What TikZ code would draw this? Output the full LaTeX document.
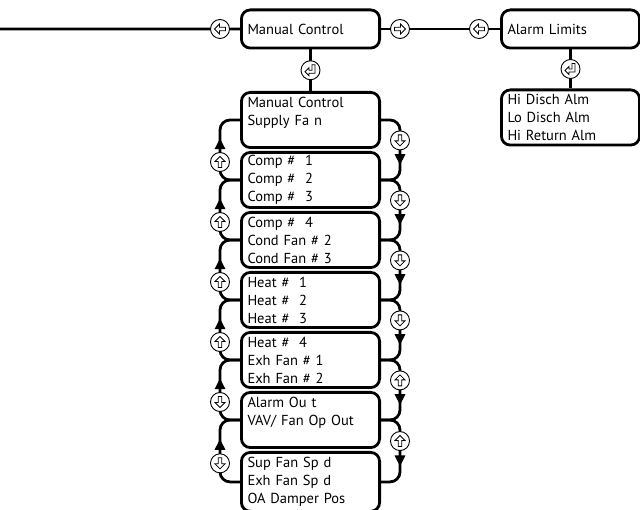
\documentclass[tikz,border=0pt]{standalone}
\usepackage{fontspec}
\setmainfont{PT Sans}
\usetikzlibrary{positioning,calc,arrows.meta,decorations.markings}
\tikzset{menubox/.style={draw, line width=2.8pt, rounded corners=9pt, minimum width=138.2pt, text width=126pt, align=left, inner xsep=6pt, inner ysep=0pt, font=\fontsize{14.5}{18}\selectfont}}
\tikzset{headbox/.style={menubox, minimum height=38.2pt}}
\tikzset{listbox/.style={menubox, minimum height=55.2pt}}
\tikzset{link/.style={draw, line width=2.8pt}}
\tikzset{steplink/.style={link, rounded corners=10pt, postaction={decorate, decoration={markings, mark=at position #1 with {\arrow{Triangle[length=11pt,width=10pt]}}}}}}
\tikzset{pics/navbtn/.style={code={
    \draw[line width=0.9pt, fill=white] (0,0) circle (9.5pt);
    \draw[line width=0.8pt, rotate=#1] (5.5pt,0) -- (0.5pt,5pt) -- (0.5pt,1.7pt) -- (-5.5pt,1.7pt) -- (-5.5pt,-1.7pt) -- (0.5pt,-1.7pt) -- (0.5pt,-5pt) -- cycle;
}}}
\tikzset{pics/enterbtn/.style={code={
    \draw[line width=0.9pt, fill=white] (0,0) circle (9.5pt);
    \draw[line width=0.8pt] (-5.5pt,-1.5pt) -- (-1.5pt,2.5pt) -- (-1.5pt,0pt) -- (1.5pt,0pt) -- (1.5pt,5.5pt) -- (4.5pt,5.5pt) -- (4.5pt,-3pt) -- (-1.5pt,-3pt) -- (-1.5pt,-5.5pt) -- cycle;
}}}

\begin{document}
\begin{tikzpicture}[x=1pt, y=1pt]
    \useasboundingbox (0,0) rectangle (640,-510);
    \clip (0,0) rectangle (640,-510);
    % top row
    \node[headbox, anchor=north west] (manual) at (240,-8.5) {Manual Control};
    \node[headbox, anchor=north west] (alarm) at (500,-8.5) {Alarm Limits};
    \node[listbox, below=39 of alarm] (alarmlist) {Hi Disch Alm\\Lo Disch Alm\\Hi Return Alm};
    % manual control column
    \node[listbox, below=41.5 of manual] (mc1) {Manual Control\\Supply  Fa n\\~};
    \node[listbox, below=2 of mc1] (mc2) {Comp \#\ \ 1\\Comp \#\ \ 2\\Comp \#\ \ 3};
    \node[listbox, below=2 of mc2] (mc3) {Comp \#\ \ 4\\Cond Fan \# 2\\Cond Fan \# 3};
    \node[listbox, below=2 of mc3] (mc4) {Heat \#\ \ 1\\Heat \#\ \ 2\\Heat \#\ \ 3};
    \node[listbox, below=2 of mc4] (mc5) {Heat \#\ \ 4\\Exh Fan \# 1\\Exh Fan \# 2};
    \node[listbox, below=2 of mc5] (mc6) {Alarm Ou t\\VAV/ Fan Op Out\\~};
    \node[listbox, below=2 of mc6, minimum height=59] (mc7) {Sup Fan Sp d\\Exh Fan Sp d\\OA Damper Pos};
    % links
    \coordinate (edge) at (0,-29);
    \coordinate (lanel) at (220,0);
    \coordinate (laner) at (400,0);
    \draw[link] (edge) -- (manual.west);
    \draw[link] (manual.east) -- (alarm.west);
    \draw[link] (manual.south) -- (mc1.north);
    \draw[link] (alarm.south) -- (alarmlist.north);
    \pic at ($(manual.west)+(-20,0)$) {navbtn=180};
    \pic at ($(manual.east)+(19,0)$) {navbtn=0};
    \pic at ($(alarm.west)+(-21,0)$) {navbtn=180};
    \pic at ($(manual.south)!.5!(mc1.north)$) {enterbtn};
    \pic at ($(alarm.south)!.5!(alarmlist.north)$) {enterbtn};
    \foreach \a/\b/\lt/\rt in {1/2/90/270, 2/3/90/270, 3/4/90/270, 4/5/90/270, 5/6/270/90, 6/7/270/90}{
        \draw[steplink=.63] (mc\b.west) -- (mc\b.west -| lanel) -- (mc\a.west -| lanel) -- (mc\a.west);
        \draw[steplink=.67] (mc\a.east) -- (mc\a.east -| laner) -- (mc\b.east -| laner) -- (mc\b.east);
        \coordinate (ml) at ($(mc\a.west)!.7!(mc\b.west)$);
        \coordinate (mr) at ($(mc\a.east)!.34!(mc\b.east)$);
        \pic at (ml -| lanel) {navbtn=\lt};
        \pic at (mr -| laner) {navbtn=\rt};
    }
\end{tikzpicture}
\end{document}
